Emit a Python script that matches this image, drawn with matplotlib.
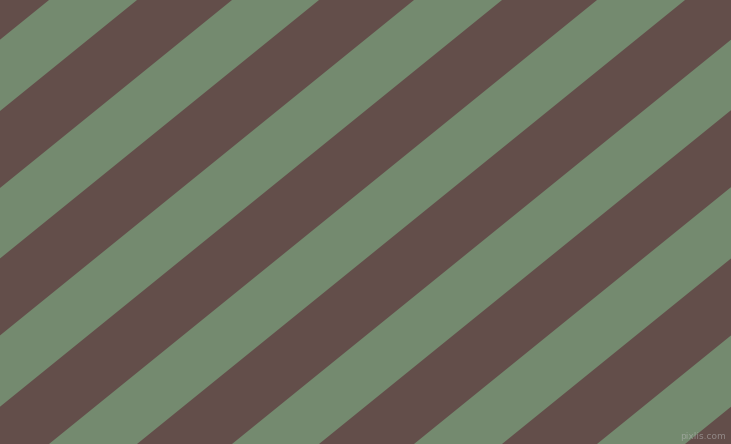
import matplotlib
matplotlib.use("Agg")
import matplotlib.pyplot as plt

# Stripe geometry (pixel units)
width_px = 731
height_px = 444
green_top_starts = [49, 232, 414, 597, 780, 962, 1145]
green_top_ends = [137, 319, 502, 685, 867, 1050, 1233]
shift_over_height = 548  # horizontal shift of a stripe edge from top to bottom

brown = "#634E4A"
green = "#748A6F"
watermark = "pixlis.com"

fig = plt.figure(figsize=(width_px / 100, height_px / 100), dpi=100)
ax = fig.add_axes([0, 0, 1, 1])
ax.set_xlim(0, width_px)
ax.set_ylim(height_px, 0)
ax.axis("off")
fig.patch.set_facecolor(brown)
ax.set_facecolor(brown)

for x0, x1 in zip(green_top_starts, green_top_ends):
    xs = [x0, x1, x1 - shift_over_height, x0 - shift_over_height]
    ys = [0, 0, height_px, height_px]
    ax.fill(xs, ys, color=green, linewidth=0, antialiased=True)

ax.text(726, 441, watermark, ha="right", va="bottom", fontsize=6.5,
        color="#b8b8b8", alpha=0.55, family="DejaVu Sans")

fig.savefig("out.png", dpi=100, facecolor=brown)
